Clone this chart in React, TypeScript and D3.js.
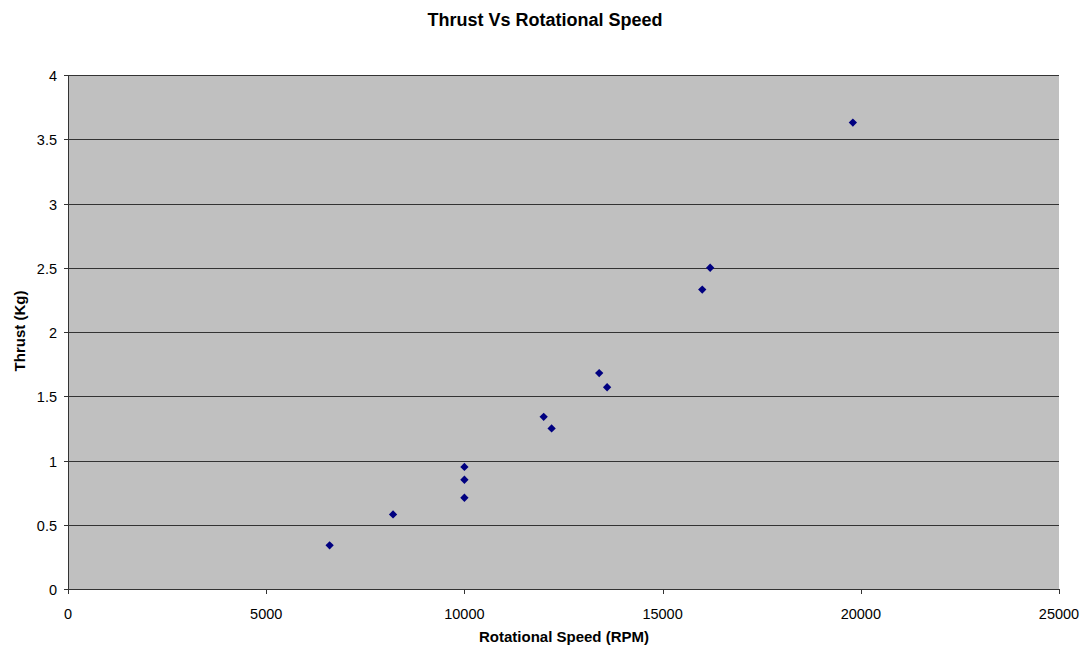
import React from "react";
import * as d3 from "d3";

const rpm = [6600, 8200, 10000, 10000, 10000, 12000, 12200, 13400, 13600, 16000, 16200, 19800];
const thrust = [0.34, 0.58, 0.71, 0.85, 0.95, 1.34, 1.25, 1.68, 1.57, 2.33, 2.5, 3.63];
const xTicks = [0, 5000, 10000, 15000, 20000, 25000];
const yTicks = [0, 0.5, 1, 1.5, 2, 2.5, 3, 3.5, 4];

const W = 1086, H = 647;
const L = 68, R = 1059, T = 75, B = 589;

export default function App() {
  const x = d3.scaleLinear().domain([0, 25000]).range([L, R]);
  const y = d3.scaleLinear().domain([0, 4]).range([B, T]);
  const diamond = d3.symbol().type(d3.symbolDiamond2).size(44)();
  const font = "Arial, 'Liberation Sans', Helvetica, sans-serif";
  return (
    <svg width={W} height={H} style={{ position: "absolute", left: 0, top: 0 }} fontFamily={font}>
      <rect x={0} y={0} width={W} height={H} fill="#fff" />
      <text x={545} y={26} textAnchor="middle" fontSize={18} fontWeight="bold">Thrust Vs Rotational Speed</text>
      <rect x={L} y={T} width={R - L} height={B - T} fill="#c0c0c0" />
      {yTicks.filter(v => v > 0).map(v => (
        <line key={"g" + v} x1={L} x2={R} y1={Math.round(y(v)) + 0.5} y2={Math.round(y(v)) + 0.5} stroke="#333" strokeWidth={1} />
      ))}
      <line x1={L + 0.5} x2={L + 0.5} y1={T} y2={B + 4} stroke="#333" />
      <line x1={L - 4} x2={R} y1={B + 0.5} y2={B + 0.5} stroke="#333" />
      {yTicks.map(v => (
        <g key={"y" + v}>
          <line x1={L - 4} x2={L} y1={Math.round(y(v)) + 0.5} y2={Math.round(y(v)) + 0.5} stroke="#333" />
          <text x={L - 11} y={y(v) + 6} textAnchor="end" fontSize={14.5}>{v}</text>
        </g>
      ))}
      {xTicks.map(v => (
        <g key={"x" + v}>
          <line x1={Math.round(x(v)) + 0.5} x2={Math.round(x(v)) + 0.5} y1={B} y2={B + 5} stroke="#333" />
          <text x={x(v)} y={619} textAnchor="middle" fontSize={14.5}>{v}</text>
        </g>
      ))}
      <text x={564} y={642} textAnchor="middle" fontSize={15} fontWeight="bold">Rotational Speed (RPM)</text>
      <text transform={`translate(25, ${331}) rotate(-90)`} textAnchor="middle" fontSize={15} fontWeight="bold">Thrust (Kg)</text>
      {rpm.map((r, i) => (
        <path key={"p" + i} d={diamond} transform={`translate(${x(r)}, ${y(thrust[i])})`} fill="#000080" />
      ))}
    </svg>
  );
}
